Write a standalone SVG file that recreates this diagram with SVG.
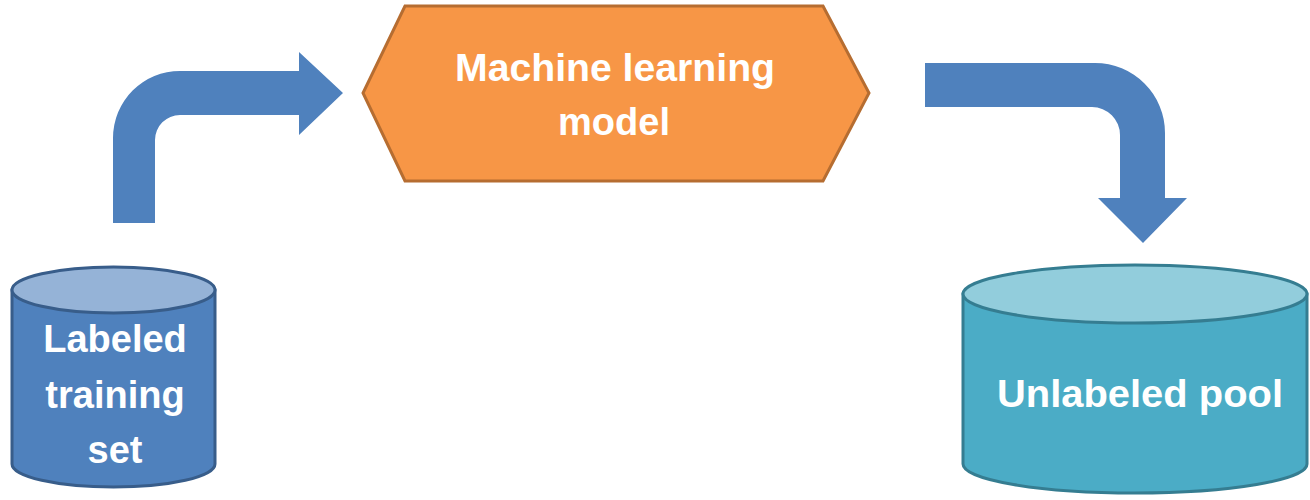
<svg xmlns="http://www.w3.org/2000/svg" width="1310" height="500" viewBox="0 0 1310 500">
<style>
.arrow{fill:#4F81BD;stroke:none}
.lbl{font-family:"Liberation Sans",Arial,sans-serif;font-weight:bold;font-size:38px;fill:#FFFFFF;text-anchor:middle}
</style>
<rect width="1310" height="500" fill="#FFFFFF"/>
<g id="connectors">
<path class="arrow" d="M113 223 L113 138 A67 67 0 0 1 180 71 L299 71 L299 52 L343 93 L299 135 L299 115 L180 115 A25 25 0 0 0 155 140 L155 223 Z"/>
<path class="arrow" d="M925 63 L1095 63 A70 70 0 0 1 1165 133 L1165 198 L1187 198 L1143 243 L1098 198 L1120 198 L1120 135 A28 28 0 0 0 1092 107 L925 107 Z"/>
</g>
<g id="model">
<polygon points="405,6 823,6 869,93 823,181 405,181 363,93" fill="#F79646" stroke="#B66D31" stroke-width="3"/>
<text class="lbl" x="615" y="81" textLength="320" lengthAdjust="spacingAndGlyphs">Machine learning</text>
<text class="lbl" x="614" y="135">model</text>
</g>
<g id="labeled">
<path d="M12 290 V464 A101.5 23 0 0 0 215 464 V290 Z" fill="#4F81BD" stroke="#385D8A" stroke-width="3"/>
<ellipse cx="113.5" cy="290" rx="101.5" ry="23" fill="#95B3D7" stroke="#385D8A" stroke-width="3"/>
<text class="lbl" x="115" y="352">Labeled</text>
<text class="lbl" x="115" y="408">training</text>
<text class="lbl" x="115" y="463">set</text>
</g>
<g id="unlabeled">
<path d="M963 294 V464 A172 29 0 0 0 1307 464 V294 Z" fill="#4BACC6" stroke="#357D91" stroke-width="3"/>
<ellipse cx="1135" cy="294" rx="172" ry="29" fill="#92CDDC" stroke="#357D91" stroke-width="3"/>
<text class="lbl" x="1140" y="407" textLength="286" lengthAdjust="spacingAndGlyphs">Unlabeled pool</text>
</g>
</svg>
